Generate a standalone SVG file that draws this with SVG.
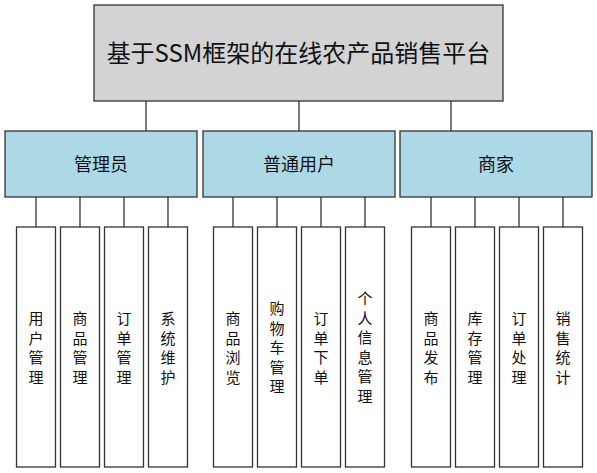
<svg xmlns="http://www.w3.org/2000/svg" width="597" height="473" viewBox="0 0 597 473">
<style>
rect{stroke:#333;stroke-width:1.3}
.root{fill:#d3d3d3}
.mid{fill:#add8e6}
.leaf{fill:#fff}
text{font-family:"Microsoft YaHei","Noto Sans CJK SC","Noto Sans",sans-serif;fill:#111;text-anchor:middle;dominant-baseline:central}
.t0{font-size:24px}
.t1{font-size:18px}
.t2{font-size:15px}
#connectors line{stroke:#333;stroke-width:1.3}
</style>
<rect width="597" height="473" fill="#fff" style="stroke:none"/>
<g id="connectors">
<line x1="146" y1="101" x2="146" y2="131"/>
<line x1="299" y1="101" x2="299" y2="131"/>
<line x1="451" y1="101" x2="451" y2="131"/>
<line x1="36" y1="197" x2="36" y2="227"/>
<line x1="80" y1="197" x2="80" y2="227"/>
<line x1="124" y1="197" x2="124" y2="227"/>
<line x1="168" y1="197" x2="168" y2="227"/>
<line x1="233" y1="197" x2="233" y2="227"/>
<line x1="277" y1="197" x2="277" y2="227"/>
<line x1="321" y1="197" x2="321" y2="227"/>
<line x1="365" y1="197" x2="365" y2="227"/>
<line x1="431" y1="197" x2="431" y2="227"/>
<line x1="475" y1="197" x2="475" y2="227"/>
<line x1="519" y1="197" x2="519" y2="227"/>
<line x1="563" y1="197" x2="563" y2="227"/>
</g>
<g id="root"><rect class="root" x="94" y="5" width="409" height="96"/><text class="t0" x="298.5" y="51">基于SSM框架的在线农产品销售平台</text></g>
<g id="admin"><rect class="mid" x="5" y="131" width="192" height="66"/><text class="t1" x="101" y="163">管理员</text></g>
<g id="user"><rect class="mid" x="203" y="131" width="192" height="66"/><text class="t1" x="299" y="163">普通用户</text></g>
<g id="merchant"><rect class="mid" x="400" y="131" width="192" height="66"/><text class="t1" x="496" y="163">商家</text></g>
<g id="a1"><rect class="leaf" x="16.5" y="227" width="39" height="240"/><text class="t2"><tspan x="36" y="317">用</tspan><tspan x="36" dy="19.5">户</tspan><tspan x="36" dy="19.5">管</tspan><tspan x="36" dy="19.5">理</tspan></text></g>
<g id="a2"><rect class="leaf" x="60.5" y="227" width="39" height="240"/><text class="t2"><tspan x="80" y="317">商</tspan><tspan x="80" dy="19.5">品</tspan><tspan x="80" dy="19.5">管</tspan><tspan x="80" dy="19.5">理</tspan></text></g>
<g id="a3"><rect class="leaf" x="104.5" y="227" width="39" height="240"/><text class="t2"><tspan x="124" y="317">订</tspan><tspan x="124" dy="19.5">单</tspan><tspan x="124" dy="19.5">管</tspan><tspan x="124" dy="19.5">理</tspan></text></g>
<g id="a4"><rect class="leaf" x="148.5" y="227" width="39" height="240"/><text class="t2"><tspan x="168" y="317">系</tspan><tspan x="168" dy="19.5">统</tspan><tspan x="168" dy="19.5">维</tspan><tspan x="168" dy="19.5">护</tspan></text></g>
<g id="u1"><rect class="leaf" x="213.5" y="227" width="39" height="240"/><text class="t2"><tspan x="233" y="317">商</tspan><tspan x="233" dy="19.5">品</tspan><tspan x="233" dy="19.5">浏</tspan><tspan x="233" dy="19.5">览</tspan></text></g>
<g id="u2"><rect class="leaf" x="257.5" y="227" width="39" height="240"/><text class="t2"><tspan x="277" y="307">购</tspan><tspan x="277" dy="19.5">物</tspan><tspan x="277" dy="19.5">车</tspan><tspan x="277" dy="19.5">管</tspan><tspan x="277" dy="19.5">理</tspan></text></g>
<g id="u3"><rect class="leaf" x="301.5" y="227" width="39" height="240"/><text class="t2"><tspan x="321" y="317">订</tspan><tspan x="321" dy="19.5">单</tspan><tspan x="321" dy="19.5">下</tspan><tspan x="321" dy="19.5">单</tspan></text></g>
<g id="u4"><rect class="leaf" x="345.5" y="227" width="39" height="240"/><text class="t2"><tspan x="365" y="297">个</tspan><tspan x="365" dy="19.5">人</tspan><tspan x="365" dy="19.5">信</tspan><tspan x="365" dy="19.5">息</tspan><tspan x="365" dy="19.5">管</tspan><tspan x="365" dy="19.5">理</tspan></text></g>
<g id="m1"><rect class="leaf" x="411.5" y="227" width="39" height="240"/><text class="t2"><tspan x="431" y="317">商</tspan><tspan x="431" dy="19.5">品</tspan><tspan x="431" dy="19.5">发</tspan><tspan x="431" dy="19.5">布</tspan></text></g>
<g id="m2"><rect class="leaf" x="455.5" y="227" width="39" height="240"/><text class="t2"><tspan x="475" y="317">库</tspan><tspan x="475" dy="19.5">存</tspan><tspan x="475" dy="19.5">管</tspan><tspan x="475" dy="19.5">理</tspan></text></g>
<g id="m3"><rect class="leaf" x="499.5" y="227" width="39" height="240"/><text class="t2"><tspan x="519" y="317">订</tspan><tspan x="519" dy="19.5">单</tspan><tspan x="519" dy="19.5">处</tspan><tspan x="519" dy="19.5">理</tspan></text></g>
<g id="m4"><rect class="leaf" x="543.5" y="227" width="39" height="240"/><text class="t2"><tspan x="563" y="317">销</tspan><tspan x="563" dy="19.5">售</tspan><tspan x="563" dy="19.5">统</tspan><tspan x="563" dy="19.5">计</tspan></text></g>
</svg>
